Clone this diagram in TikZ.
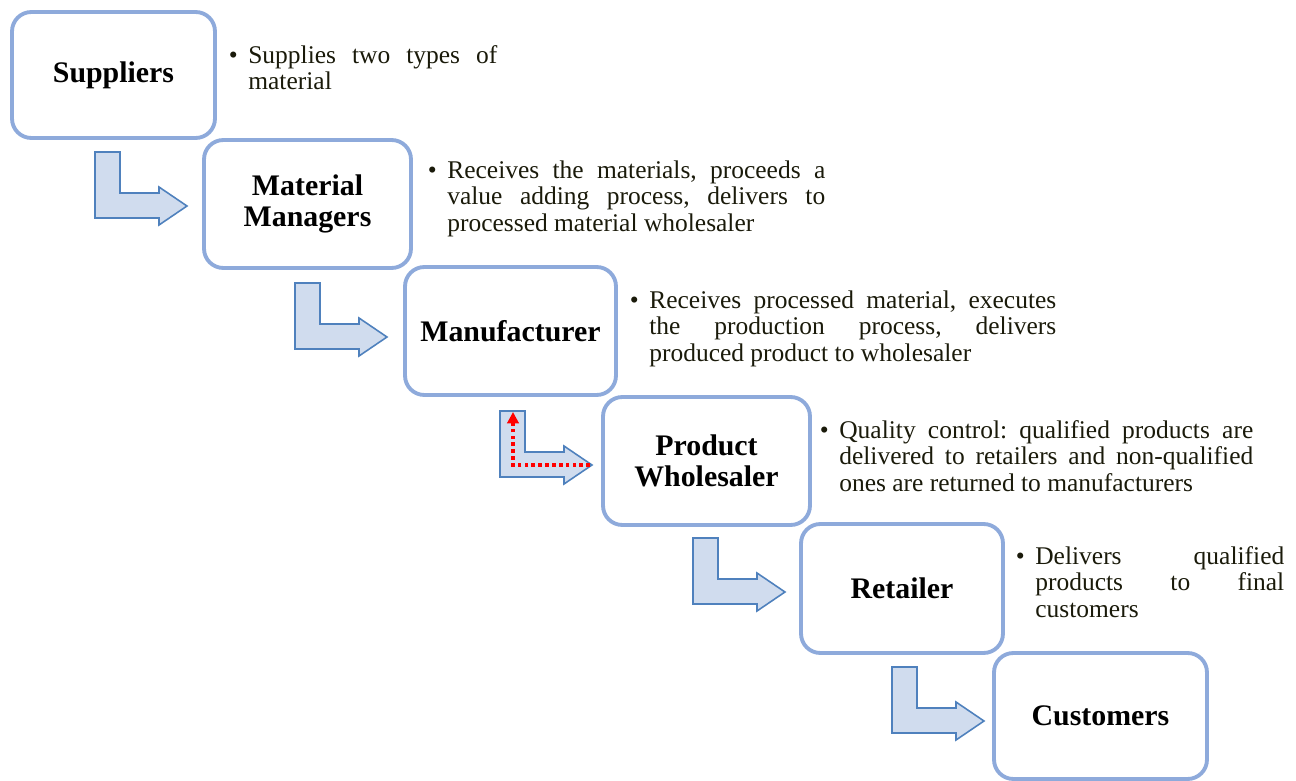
\documentclass[tikz,border=0pt]{standalone}
\usepackage{fontspec}
\setmainfont{Liberation Serif}
\usetikzlibrary{arrows.meta}
\setlength{\parindent}{0pt}
\frenchspacing
\definecolor{boxblue}{HTML}{8EAADB}
\definecolor{arrowfill}{HTML}{D0DCEE}
\definecolor{arrowline}{HTML}{4F81BD}
\definecolor{notetext}{HTML}{1A1A0A}
\tikzset{
  every picture/.style={x=0.02cm, y=-0.02cm},
  stage/.style={draw=boxblue, fill=white, line width=2.2pt, rounded corners=11pt, align=center, inner sep=2pt, font=\fontsize{17}{17.6}\selectfont\bfseries},
  note/.style={anchor=base west, inner sep=0pt, text width=#1, align=justify, text=notetext, font=\fontsize{14.5}{15.35}\selectfont},
  returnline/.style={red, line width=2.2pt, dash pattern=on 2.1pt off 1.8pt, -{Triangle[length=6.5pt, width=6.5pt]}},
  bentarrow/.pic={
    \draw[draw=arrowline, fill=arrowfill, line width=0.9pt] (0,0) -- (25,0) -- (25,41) -- (64,41) -- (64,35) -- (92,54) -- (64,73) -- (64,66) -- (0,66) -- cycle;
    \coordinate (-tip) at (90,54);
    \coordinate (-top) at (13,1);
  },
}
\newcommand{\bulletmark}{\makebox[0pt][r]{\textbullet\hspace{6pt}}}

\begin{document}
\begin{tikzpicture}
  \useasboundingbox (0,0) rectangle (1296,781);

  % the chain
  \node[stage, minimum width=4.06cm, minimum height=2.52cm] (sup) at (113.5,75) {Suppliers};
  \node[stage, minimum width=4.14cm, minimum height=2.56cm] (mm) at (307.5,204) {Material\\Managers};
  \node[stage, minimum width=4.22cm, minimum height=2.56cm] (man) at (510.5,331) {Manufacturer};
  \node[stage, minimum width=4.14cm, minimum height=2.56cm] (pw) at (706.5,461) {Product\\Wholesaler};
  \node[stage, minimum width=4.04cm, minimum height=2.58cm] (ret) at (902,588.5) {Retailer};
  \node[stage, minimum width=4.26cm, minimum height=2.52cm] (cus) at (1100.5,716) {Customers};

  % block arrows between the stages
  \pic (a1) at (95,152) {bentarrow};
  \pic (a2) at (295,283) {bentarrow};
  \pic (a3) at (500,411) {bentarrow};
  \pic (a4) at (693,538) {bentarrow};
  \pic (a5) at (892,667) {bentarrow};
  \draw[returnline] (a3-tip) -| (a3-top);

  % descriptions
  \node[note=4.98cm] (supnote) at (248,63) {\bulletmark Supplies two types of \linebreak material};
  \node[note=7.56cm] (mmnote) at (447,178) {\bulletmark Receives the materials, proceeds a \linebreak value adding process, delivers to \linebreak processed material wholesaler};
  \node[note=8.14cm] (mannote) at (649,308) {\bulletmark Receives processed material, executes \linebreak the production process, delivers \linebreak produced product to wholesaler};
  \node[note=8.28cm] (pwnote) at (839,438) {\bulletmark Quality control: qualified products are \linebreak delivered to retailers and non-qualified \linebreak ones are returned to manufacturers};
  \node[note=4.98cm] (retnote) at (1035,564) {\bulletmark Delivers qualified \linebreak products to final \linebreak customers};
\end{tikzpicture}
\end{document}
